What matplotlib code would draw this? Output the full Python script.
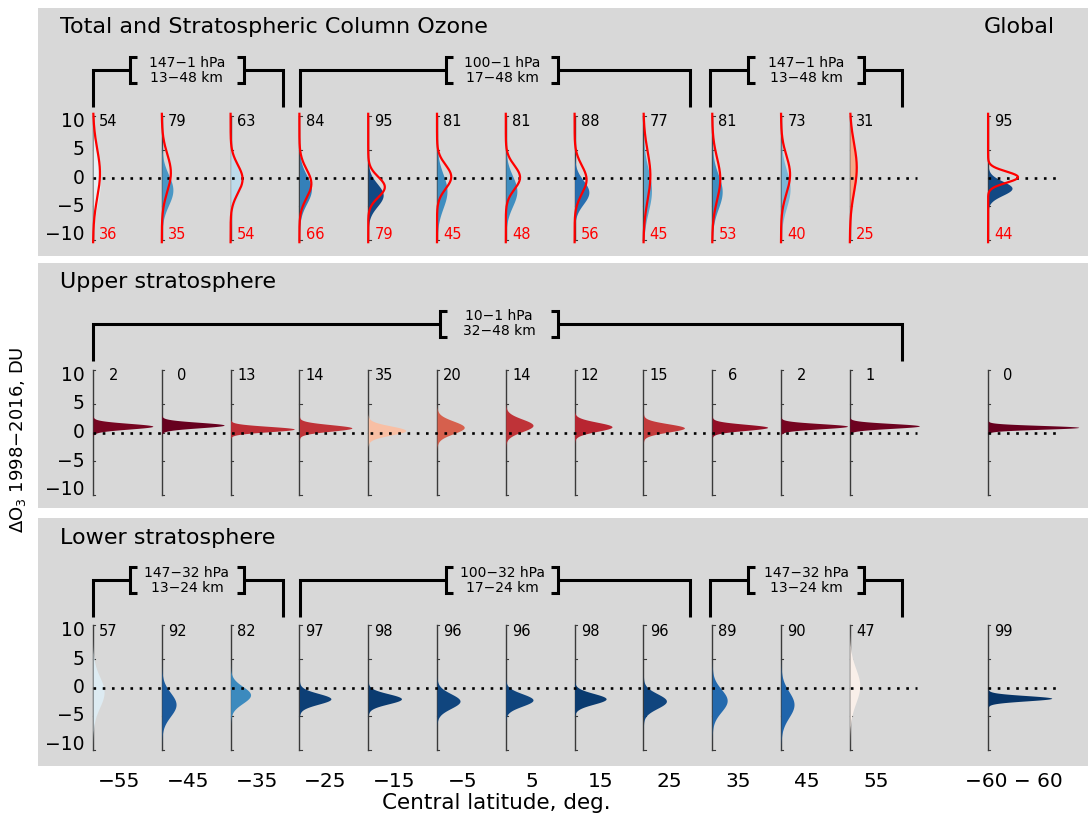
"""Ozone change distributions by latitude band, three stacked panels."""

import numpy as np
import matplotlib
matplotlib.use("Agg")
import matplotlib.pyplot as plt
from matplotlib import cm

# ---- data -------------------------------------------------------------
lats = [-55, -45, -35, -25, -15, -5, 5, 15, 25, 35, 45, 55]
lat_labels = ["−55", "−45", "−35", "−25", "−15", "−5", "5", "15", "25", "35", "45", "55"]
global_label = "−60 − 60"

# total + stratospheric column (last entry = global)
strat_prob = [54, 79, 63, 84, 95, 81, 81, 88, 77, 81, 73, 31, 95]
strat_mean = [-0.5, -2.1, -0.8, -2.0, -3.0, -2.3, -2.3, -2.5, -2.2, -2.4, -1.9, 1.5, -1.8]
strat_sigma = [4.0, 2.7, 2.7, 2.5, 2.0, 3.0, 2.7, 2.1, 3.7, 3.0, 3.3, 4.3, 1.25]
total_prob = [36, 35, 54, 66, 79, 45, 48, 56, 45, 53, 40, 25, 44]
total_mean = [0.8, 0.9, -0.2, -1.0, -1.6, 0.2, 0.1, -0.3, 0.4, -0.2, 0.6, 1.8, 0.15]
total_sigma = [4.3, 3.3, 2.5, 2.5, 1.8, 2.1, 2.1, 2.5, 4.3, 3.7, 3.3, 4.3, 1.0]

# upper stratosphere
upper_prob = [2, 0, 13, 14, 35, 20, 14, 12, 15, 6, 2, 1, 0]
upper_mean = [1.1, 1.3, 0.6, 0.8, 0.35, 0.9, 1.25, 1.0, 0.8, 0.9, 1.1, 1.15, 0.9]
upper_sigma = [0.5, 0.48, 0.47, 0.57, 0.8, 1.1, 1.1, 0.8, 0.73, 0.54, 0.45, 0.43, 0.33]

# lower stratosphere
lower_prob = [57, 92, 82, 97, 98, 96, 96, 98, 96, 89, 90, 47, 99]
lower_mean = [-0.8, -3.0, -1.3, -2.0, -2.0, -2.4, -2.2, -2.0, -2.4, -2.3, -3.0, 0.3, -1.9]
lower_sigma = [2.7, 2.1, 1.5, 0.95, 0.9, 1.3, 1.1, 0.95, 1.3, 2.0, 2.3, 3.0, 0.47]

# ---- layout -------------------------------------------------------------
W, H = 1091, 819
PX_DEG = 6.88            # pixels per degree latitude
GLOBAL_X = 75.1          # where the global column sits on the latitude axis
XLIM = (-55 - 55 / PX_DEG, -55 + 995 / PX_DEG)
PDF_SCALE = 10.9         # degrees of width per unit probability density
BG = "#d8d8d8"

positions = lats + [GLOBAL_X]


def prob_color(p):
    # probability of a decrease: red -> white -> blue
    return cm.RdBu(p / 100)


def gauss(y, m, s):
    return np.exp(-0.5 * ((y - m) / s) ** 2) / (s * np.sqrt(2 * np.pi))


def make_panel(fig, top, bot, zero, ppd):
    ax = fig.add_axes([38 / W, 1 - bot / H, (1088 - 38) / W, (bot - top) / H])
    ax.set_facecolor(BG)
    ax.set_xlim(*XLIM)
    ax.set_ylim((zero - bot) / ppd, (zero - top) / ppd)
    ax.set_xticks([])
    ax.set_yticks([])
    for s in ax.spines.values():
        s.set_visible(False)
    return ax


def mini_axes(ax):
    for x in positions:
        ax.plot([x, x], [-11, 11], color="#3a3a3a", lw=1.0, zorder=2)
        for t in (-11, -5, 0, 5, 11):
            ax.plot([x, x + 0.35], [t, t], color="#3a3a3a", lw=0.8, zorder=2)
    for v, lab in zip((10, 5, 0, -5, -10), ("10", "5", "0", "−5", "−10")):
        ax.text(-56.2, v, lab, ha="right", va="center", fontsize=13.5)
    dots = dict(color="black", lw=1.9, linestyle=(0, (1, 2.5)), zorder=4)
    ax.plot([-55, 64.8], [0, 0], **dots)
    ax.plot([GLOBAL_X, 85], [0, 0], **dots)


def fills(ax, means, sigmas, probs):
    y = np.linspace(-11, 11, 600)
    for x, m, s, p in zip(positions, means, sigmas, probs):
        ax.fill_betweenx(y, x, x + gauss(y, m, s) * PDF_SCALE,
                         color=prob_color(p), lw=0, zorder=3)
        ax.text(x + 3.6, 10, str(p), ha="right", va="center", fontsize=10.5, zorder=6)


def bracket(ax, xl, xr, bl, br, label, y=19.0, foot=12.5, half=2.3, hook=1.0):
    kw = dict(color="black", lw=2.2, solid_joinstyle="miter", solid_capstyle="butt")
    ax.plot([xl, xl, bl], [foot, y, y], **kw)
    ax.plot([bl + hook, bl, bl, bl + hook], [y + half, y + half, y - half, y - half], **kw)
    ax.plot([br - hook, br, br, br - hook], [y + half, y + half, y - half, y - half], **kw)
    ax.plot([br, xr, xr], [y, y, foot], **kw)
    ax.text((bl + br) / 2, y, label, ha="center", va="center", fontsize=10,
            linespacing=1.1)


fig = plt.figure(figsize=(W / 100, H / 100), dpi=100)

# panel 1: total and stratospheric column
ax1 = make_panel(fig, 8, 256, 178, 5.68)
mini_axes(ax1)
fills(ax1, strat_mean, strat_sigma, strat_prob)
yy = np.linspace(-11.3, 11.3, 600)
for x, m, s, p in zip(positions, total_mean, total_sigma, total_prob):
    ax1.plot(x + gauss(yy, m, s) * PDF_SCALE, yy, color="red", lw=1.6, zorder=5)
    ax1.text(x + 3.6, -10, str(p), ha="right", va="center", fontsize=10.5,
             color="red", zorder=6)
ax1.text(-59.8, 26.6, "Total and Stratospheric Column Ozone", fontsize=16, va="center")
ax1.text(84.8, 26.6, "Global", fontsize=16, va="center", ha="right")
bracket(ax1, -55, -27.4, -49.6, -33.1, "147−1 hPa\n13−48 km")
bracket(ax1, -24.9, 31.8, -3.7, 12.6, "100−1 hPa\n17−48 km")
bracket(ax1, 34.7, 62.6, 40.2, 57.1, "147−1 hPa\n13−48 km")

# panel 2: upper stratosphere
ax2 = make_panel(fig, 263, 508, 432.5, 5.72)
mini_axes(ax2)
fills(ax2, upper_mean, upper_sigma, upper_prob)
ax2.text(-59.8, 26.3, "Upper stratosphere", fontsize=16, va="center")
bracket(ax2, -55, 62.6, -4.6, 12.6, "10−1 hPa\n32−48 km")

# panel 3: lower stratosphere
ax3 = make_panel(fig, 518, 766, 687.5, 5.65)
mini_axes(ax3)
fills(ax3, lower_mean, lower_sigma, lower_prob)
ax3.text(-59.8, 26.5, "Lower stratosphere", fontsize=16, va="center")
bracket(ax3, -55, -27.4, -49.6, -33.1, "147−32 hPa\n13−24 km")
bracket(ax3, -24.9, 31.8, -3.7, 12.6, "100−32 hPa\n17−24 km")
bracket(ax3, 34.7, 62.6, 40.2, 57.1, "147−32 hPa\n13−24 km")

for x, lab in zip(positions, lat_labels + [global_label]):
    ax3.text(x + 3.8, -16.7, lab, ha="center", va="center", fontsize=14.5, clip_on=False)
ax3.text(3.6, -20.4, "Central latitude, deg.", ha="center", va="center",
         fontsize=15.5, clip_on=False)

fig.text(18 / W, 1 - 440 / H, "ΔO$_3$ 1998−2016, DU", rotation=90,
         ha="center", va="center", fontsize=13)

fig.savefig("out.png", dpi=100, facecolor="white")
plt.close(fig)
